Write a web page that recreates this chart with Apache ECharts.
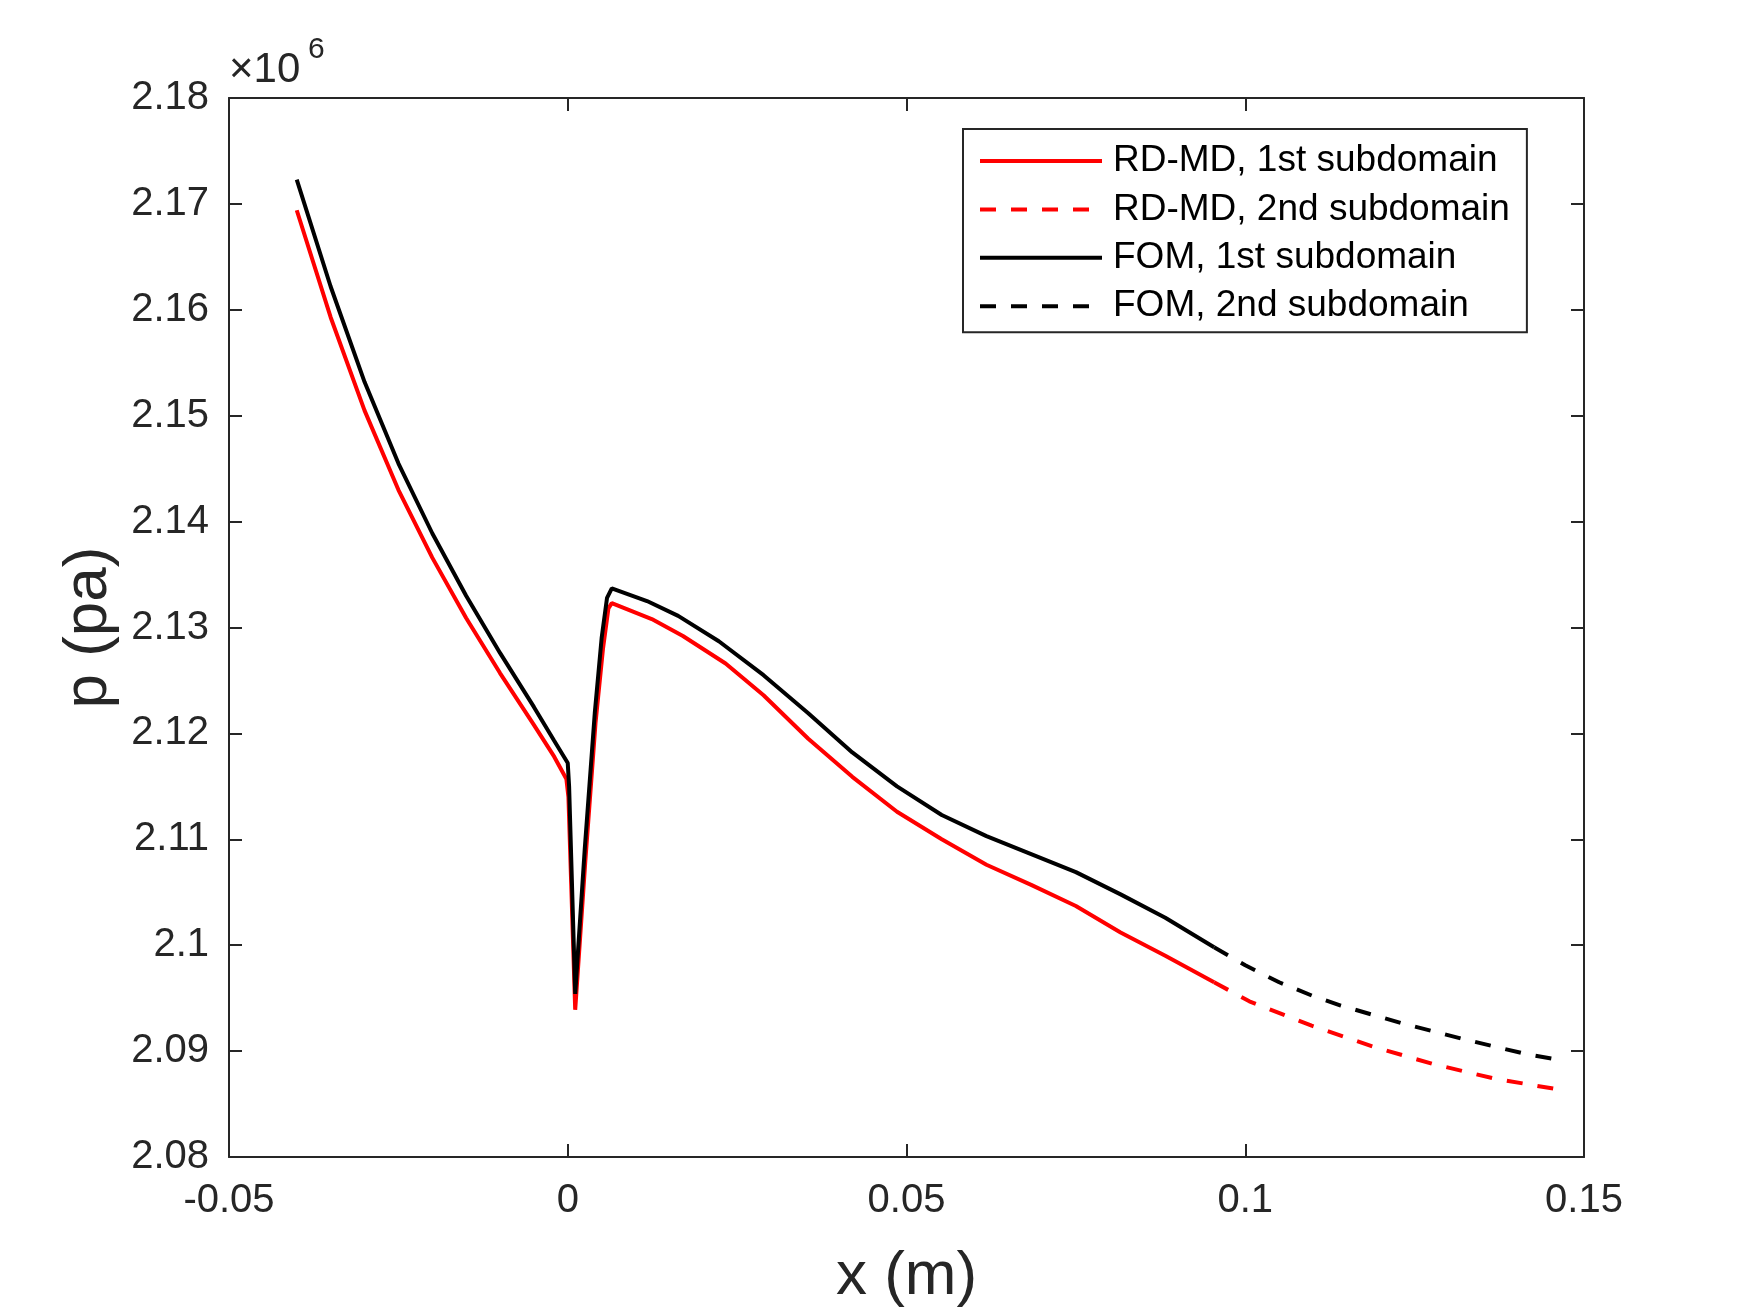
<!DOCTYPE html>
<html>
<head>
<meta charset="utf-8">
<script src="https://cdn.jsdelivr.net/npm/echarts@6/dist/echarts.min.js"></script>
<style>
  html, body { margin: 0; padding: 0; background: #fff; }
  #main { width: 1750px; height: 1313px; }
</style>
</head>
<body>
<div id="main"></div>
<script>
// pressure in units of 1e6 Pa, x in m
var fomX1 = [-0.040, -0.035, -0.030, -0.025, -0.020, -0.015, -0.010, -0.005, -0.002, 0.000, 0.0002, 0.0011, 0.0025, 0.0040, 0.0050, 0.0058, 0.0065, 0.0117, 0.0163, 0.0223, 0.0289, 0.0355, 0.0420, 0.0486, 0.0552, 0.0618, 0.0684, 0.0750, 0.0816, 0.0882, 0.0954];
var fomP1 = [2.1723, 2.1622, 2.1532, 2.1455, 2.1389, 2.1330, 2.1276, 2.1225, 2.1193, 2.1172, 2.1150, 2.0954, 2.1090, 2.1220, 2.1290, 2.1328, 2.1337, 2.1325, 2.1311, 2.1287, 2.1255, 2.1219, 2.1182, 2.1150, 2.1123, 2.1103, 2.1086, 2.1069, 2.1048, 2.1026, 2.0998];

var romX1 = [-0.040, -0.035, -0.030, -0.025, -0.020, -0.015, -0.010, -0.005, -0.002, -0.0002, 0.0001, 0.0011, 0.0026, 0.0041, 0.0052, 0.0060, 0.0065, 0.0124, 0.0170, 0.0233, 0.0289, 0.0355, 0.0420, 0.0486, 0.0552, 0.0618, 0.0684, 0.0750, 0.0816, 0.0882, 0.0954];
var romP1 = [2.1694, 2.1593, 2.1505, 2.1430, 2.1366, 2.1309, 2.1257, 2.1208, 2.1178, 2.1157, 2.1140, 2.0939, 2.1080, 2.1210, 2.1280, 2.1318, 2.1323, 2.1308, 2.1292, 2.1266, 2.1236, 2.1195, 2.1159, 2.1126, 2.1100, 2.1076, 2.1057, 2.1037, 2.1012, 2.0990, 2.0965];

var fomX2 = [0.0954, 0.1000, 0.1050, 0.1100, 0.1141, 0.1233, 0.1324, 0.1416, 0.1460];
var fomP2 = [2.0998, 2.0981, 2.0965, 2.0952, 2.0943, 2.0926, 2.0911, 2.0897, 2.0892];

var romX2 = [0.0954, 0.1006, 0.1098, 0.1190, 0.1276, 0.1368, 0.1460];
var romP2 = [2.0965, 2.0947, 2.0924, 2.0904, 2.0888, 2.0874, 2.0864];

var xTicks = [-0.05, 0, 0.05, 0.1, 0.15];
var yTicks = [2.08, 2.09, 2.10, 2.11, 2.12, 2.13, 2.14, 2.15, 2.16, 2.17, 2.18];

var names = ['RD-MD, 1st subdomain', 'RD-MD, 2nd subdomain', 'FOM, 1st subdomain', 'FOM, 2nd subdomain'];

function pairs(xs, ys) {
  return xs.map(function (x, i) { return [x, ys[i]]; });
}

var font = '"Liberation Sans", Arial, Helvetica, sans-serif';
var axisColor = '#262626';
var dash = [16, 15];

function xAx(pos, labels) {
  return {
    type: 'value', position: pos,
    min: xTicks[0], max: xTicks[xTicks.length - 1], interval: 0.05,
    axisLine: { show: true, onZero: false, lineStyle: { color: axisColor, width: 2 } },
    axisTick: { show: true, inside: true, length: 13, lineStyle: { color: axisColor, width: 2 } },
    splitLine: { show: false },
    axisLabel: {
      show: labels, margin: 24, fontSize: 40, fontFamily: font, color: axisColor,
      formatter: function (v) { return String(parseFloat(v.toFixed(3))); }
    },
    name: labels ? 'x (m)' : '', nameLocation: 'middle', nameGap: 89,
    nameTextStyle: { fontSize: 62, fontFamily: font, color: axisColor }
  };
}

function yAx(pos, labels) {
  return {
    type: 'value', position: pos,
    min: yTicks[0], max: yTicks[yTicks.length - 1], interval: 0.01,
    axisLine: { show: true, onZero: false, lineStyle: { color: axisColor, width: 2 } },
    axisTick: { show: true, inside: true, length: 13, lineStyle: { color: axisColor, width: 2 } },
    splitLine: { show: false },
    axisLabel: {
      show: labels, margin: 20, fontSize: 40, fontFamily: font, color: axisColor,
      formatter: function (v) { return String(parseFloat(v.toFixed(3))); }
    },
    name: labels ? 'p (pa)' : '', nameLocation: 'middle', nameGap: 106,
    nameTextStyle: { fontSize: 62, fontFamily: font, color: axisColor }
  };
}

var myChart = echarts.init(document.getElementById('main'));
var option = {
  animation: false,
  backgroundColor: '#fff',
  grid: { left: 229, right: 166, top: 98, bottom: 151 },
  xAxis: [xAx('bottom', true), xAx('top', false)],
  yAxis: [yAx('left', true), yAx('right', false)],
  legend: {
    orient: 'vertical',
    left: 963, top: 129,
    padding: [12, 17, 6, 15],
    itemWidth: 122, itemHeight: 14, itemGap: 8.4,
    backgroundColor: '#fff',
    borderColor: axisColor, borderWidth: 2,
    itemStyle: { opacity: 0 },
    lineStyle: { width: 4 },
    textStyle: { fontSize: 37, fontFamily: font, color: '#000', lineHeight: 40, padding: [0, 0, 0, 6] },
    data: names
  },
  graphic: [
    { type: 'text', left: 229, top: 49, style: { text: '\u00d710', font: '42px ' + font, fill: axisColor } },
    { type: 'text', left: 308, top: 35, style: { text: '6', font: '30px ' + font, fill: axisColor } }
  ],
  series: [
    { name: names[0], type: 'line', data: pairs(romX1, romP1), symbol: 'none',
      lineStyle: { color: '#ff0000', width: 4 }, itemStyle: { color: '#ff0000' } },
    { name: names[1], type: 'line', data: pairs(romX2, romP2), symbol: 'none',
      lineStyle: { color: '#ff0000', width: 4, type: dash }, itemStyle: { color: '#ff0000' } },
    { name: names[2], type: 'line', data: pairs(fomX1, fomP1), symbol: 'none',
      lineStyle: { color: '#000000', width: 4 }, itemStyle: { color: '#000000' } },
    { name: names[3], type: 'line', data: pairs(fomX2, fomP2), symbol: 'none',
      lineStyle: { color: '#000000', width: 4, type: dash }, itemStyle: { color: '#000000' } }
  ]
};
myChart.setOption(option);
</script>
</body>
</html>
